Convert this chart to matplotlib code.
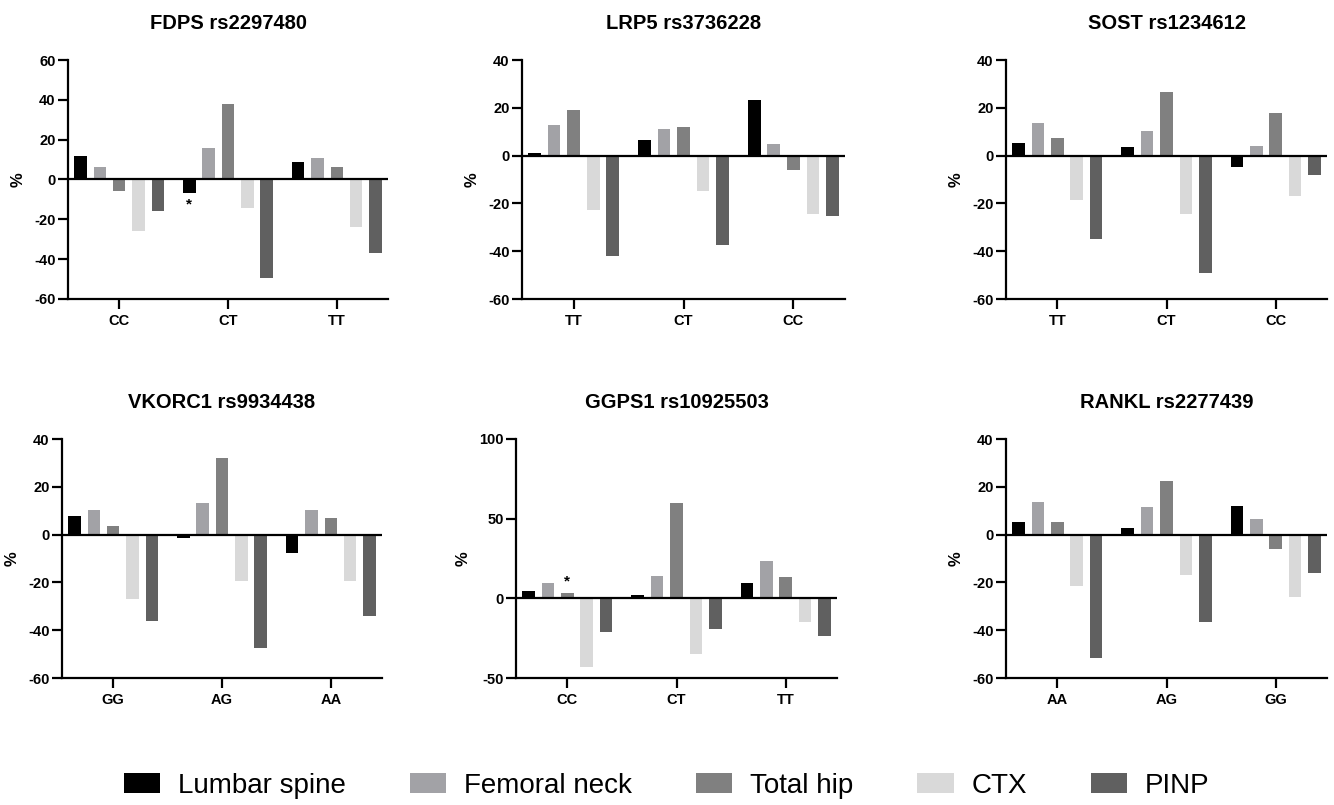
import matplotlib
matplotlib.use("Agg")
import matplotlib.pyplot as plt
from matplotlib.patches import Patch
import numpy as np

plt.rcParams['font.family'] = ['Liberation Sans', 'DejaVu Sans']
plt.rcParams['axes.unicode_minus'] = False

# series names and colours
series = ["Lumbar spine", "Femoral neck", "Total hip", "CTX", "PINP"]
colors = ["#000000", "#a2a2a6", "#808080", "#d9d9d9", "#606060"]

# one entry per panel: title, genotypes, values[genotype][series]
titles = ["FDPS rs2297480", "LRP5 rs3736228", "SOST rs1234612",
          "VKORC1 rs9934438", "GGPS1 rs10925503", "RANKL rs2277439"]
genotypes = [["CC", "CT", "TT"], ["TT", "CT", "CC"], ["TT", "CT", "CC"],
             ["GG", "AG", "AA"], ["CC", "CT", "TT"], ["AA", "AG", "GG"]]

fdps = [[11.7, 6.4, -6.0, -26.0, -16.0],
        [-6.7, 16.0, 37.8, -14.4, -49.7],
        [9.0, 10.9, 6.2, -24.0, -36.8]]
lrp5 = [[1.0, 12.8, 19.1, -22.7, -42.0],
        [6.6, 11.1, 12.1, -14.8, -37.6],
        [23.4, 4.7, -6.1, -24.5, -25.2]]
sost = [[5.4, 13.5, 7.4, -18.7, -34.7],
        [3.5, 10.3, 26.6, -24.5, -49.3],
        [-4.9, 3.9, 18.0, -17.1, -8.1]]
vkorc1 = [[7.8, 10.5, 3.8, -27.0, -36.1],
          [-1.3, 13.4, 32.2, -19.3, -47.3],
          [-7.7, 10.5, 7.0, -19.3, -34.1]]
ggps1 = [[4.4, 9.8, 3.1, -43.1, -21.1],
         [2.3, 14.2, 59.8, -34.9, -19.0],
         [9.8, 23.2, 13.4, -15.1, -23.8]]
rankl = [[5.1, 13.8, 5.1, -21.7, -51.5],
         [2.9, 11.6, 22.4, -17.0, -36.7],
         [11.8, 6.4, -6.0, -25.9, -15.9]]
values = [fdps, lrp5, sost, vkorc1, ggps1, rankl]

yranges = [(-60, 60, 20), (-60, 40, 20), (-60, 40, 20),
           (-60, 40, 20), (-50, 100, 50), (-60, 40, 20)]

# significance marks: (panel, genotype index, series index, side)
stars = [(0, 1, 0, "below"), (4, 0, 2, "above")]

W, H = 1334, 805
fig = plt.figure(figsize=(W / 100, H / 100), dpi=100)

# axes boxes in pixels: left, top, width, height
boxes = [(68, 60, 320, 239), (522, 60, 323, 239), (1006, 60, 321, 239),
         (62, 439, 320, 239), (516, 439, 321, 239), (1006, 439, 321, 239)]

pitch = 0.178
bw = 0.115
for i, (l, t, w, h) in enumerate(boxes):
    ax = fig.add_axes([l / W, 1 - (t + h) / H, w / W, h / H])
    vals = np.array(values[i])
    x = np.arange(len(genotypes[i]))
    bars_by_series = []
    for s in range(len(series)):
        off = (s - 2) * pitch
        b = ax.bar(x + off, vals[:, s], width=bw, color=colors[s], zorder=2)
        bars_by_series.append(b)
    ax.axhline(0, color="black", lw=1.6, zorder=3)
    lo, hi, step = yranges[i]
    ax.set_ylim(lo, hi)
    ax.set_yticks(np.arange(lo, hi + 1, step))
    ax.set_xlim(-0.47, len(x) - 1 + 0.47)
    ax.set_xticks(x)
    ax.set_xticklabels(genotypes[i])
    for sp in ["top", "right"]:
        ax.spines[sp].set_visible(False)
    for sp in ["left", "bottom"]:
        ax.spines[sp].set_linewidth(1.6)
    ax.tick_params(axis="both", width=1.6, length=7, labelsize=10.5, pad=2)
    ax.tick_params(axis="x", pad=4)
    for lab in ax.get_xticklabels() + ax.get_yticklabels():
        lab.set_fontweight("bold")
    ax.set_ylabel("%", fontsize=12, fontweight="bold", labelpad=6)
    ax.set_title(titles[i], fontsize=14.5, fontweight="bold", pad=22)

    for (p, g, s, side) in stars:
        if p != i:
            continue
        bar = bars_by_series[s][g]
        v = vals[g, s]
        span = hi - lo
        dy = -0.05 * span if side == "below" else 0.05 * span
        ax.text(bar.get_x() + bar.get_width() / 2, v + dy, "*",
                ha="center", va="center", fontsize=11, fontweight="bold")

handles = [Patch(facecolor=c, label=n) for c, n in zip(colors, series)]
fig.legend(handles=handles, loc="center", bbox_to_anchor=(0.5, 0.024), ncol=5,
           frameon=False, handlelength=1.3, handleheight=0.75,
           columnspacing=2.3, handletextpad=0.65,
           prop={"family": ["Liberation Sans Narrow", "Liberation Sans"], "size": 20})

fig.savefig("out.png", dpi=100)
